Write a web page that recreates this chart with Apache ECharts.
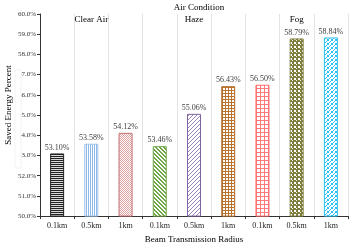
<!DOCTYPE html>
<html><head><meta charset="utf-8">
<script src="https://cdn.jsdelivr.net/npm/echarts@6/dist/echarts.min.js"></script>
<style>html,body{margin:0;padding:0;background:#fff}#c{width:349px;height:249px}</style>
</head><body><div id="c"></div>
<script>
const categories = ['0.1km','0.5km','1km','0.1km','0.5km','1km','0.1km','0.5km','1km'];
const groupLabels = ['', 'Clear Air', '', '', 'Haze', '', '', 'Fog', ''];
const savedPercent = [53.10, 53.58, 54.12, 53.46, 55.06, 56.43, 56.50, 58.79, 58.84];
const yTicks = [50, 51, 52, 53, 54, 55, 56, 57, 58, 59, 60];

const SERIF = "'Liberation Serif','DejaVu Serif',serif";
function tile(w, h, draw) {
  const c = document.createElement('canvas'); c.width = w; c.height = h;
  const g = c.getContext('2d'); g.fillStyle = '#fff'; g.fillRect(0, 0, w, h); draw(g); return c;
}
const pats = [
  tile(4, 2, g => { g.fillStyle = '#d9d9d9'; g.fillRect(0,0,4,2); g.fillStyle = '#222'; g.fillRect(0,0,4,1); }),
  tile(2, 4, g => { g.fillStyle = '#8fb8e8'; g.fillRect(0,0,1,4); }),
  tile(2, 2, g => { g.fillStyle = '#dba0a0'; g.fillRect(0,0,1,1); g.fillRect(1,1,1,1); }),
  tile(4, 4, g => { g.fillStyle = '#6ea646'; for (let i=0;i<4;i++){ g.fillRect(i,i,1,1); g.fillRect((i+1)%4,i,1,1);} }),
  tile(4, 4, g => { g.fillStyle = '#9a86c0'; for (let i=0;i<4;i++){ g.fillRect(3-i,i,1,1);} }),
  tile(3, 3, g => { g.fillStyle = '#b8732e'; g.fillRect(0,0,3,1); g.fillRect(0,0,1,3); }),
  tile(4, 4, g => { g.fillStyle = '#ff7a7a'; g.fillRect(0,0,4,1); g.fillRect(0,0,1,4); }),
  tile(4, 4, g => { g.fillStyle = '#7d7d3c'; g.fillRect(0,0,4,2); g.fillRect(0,0,2,4); g.fillStyle='#fff'; g.fillRect(0,0,1,1); }),
  tile(4, 4, g => { g.fillStyle = '#2fc0f0'; [[0,0],[2,1],[1,2],[3,3],[3,0],[0,3]].forEach(p=>g.fillRect(p[0],p[1],1,1)); })
];
const borders = ['#222', '#9ec3ea', '#c07070', '#6ea646', '#8064a2', '#b8732e', '#ff6b6b', '#7d7d3c', '#2fc0f0'];

const chart = echarts.init(document.getElementById('c'), null, {renderer: 'canvas'});
chart.setOption({
  animation: false,
  backgroundColor: '#fff',
  title: { text: 'Air Condition', left: 194, top: -2, textAlign: 'center',
    textStyle: { fontFamily: SERIF, fontSize: 9, fontWeight: 'normal', color: '#000' } },
  grid: { left: 40, right: 1, top: 14, bottom: 25 },
  xAxis: [{
    type: 'category', data: categories,
    name: 'Beam Transmission Radius', nameLocation: 'middle', nameGap: 17,
    nameTextStyle: { fontFamily: SERIF, fontSize: 9, color: '#000' },
    axisLine: { lineStyle: { color: '#333' } },
    axisTick: { show: true, length: 3, lineStyle: { color: '#333' } },
    axisLabel: { interval: 0, margin: 6, fontFamily: SERIF, fontSize: 8, color: '#222' },
    splitLine: { show: true, lineStyle: { color: '#e3e3e3' } }
  }, {
    type: 'category', data: groupLabels, position: 'top',
    axisLine: { show: false }, axisTick: { show: false },
    axisLabel: { interval: 0, inside: true, margin: 1, fontFamily: SERIF, fontSize: 9, color: '#000' }
  }],
  yAxis: {
    type: 'value', min: yTicks[0], max: yTicks[yTicks.length - 1], interval: 1,
    axisLine: { show: true, lineStyle: { color: '#333' } },
    axisTick: { show: true, length: 3, lineStyle: { color: '#333' } },
    axisLabel: { margin: 4, fontFamily: SERIF, fontSize: 7, color: '#333', formatter: v => v.toFixed(1) + '%' },
    splitLine: { show: false }
  },
  series: [{
    type: 'bar', xAxisIndex: 0, barWidth: 14,
    data: savedPercent.map((v, i) => ({
      value: v,
      itemStyle: { color: { image: pats[i], repeat: 'repeat' }, borderColor: borders[i], borderWidth: 1 }
    })),
    label: { show: true, position: 'top', distance: 2, fontFamily: SERIF, fontSize: 8, color: '#404040',
      formatter: p => p.value.toFixed(2) + '%' }
  }],
  graphic: [
    { type: 'rect', shape: { x: 15, y: 70, width: 6, height: 98 }, style: { fill: '#fff', stroke: '#e6e6e6', lineWidth: 0.5 }, z: 100 },
    { type: 'text', x: 9, y: 105, rotation: Math.PI / 2, z: 100,
      style: { text: 'Saved Energy Percent', textAlign: 'center', textVerticalAlign: 'middle',
        font: "9px 'Liberation Serif', serif", fill: '#000' } }
  ]
});
</script></body></html>
